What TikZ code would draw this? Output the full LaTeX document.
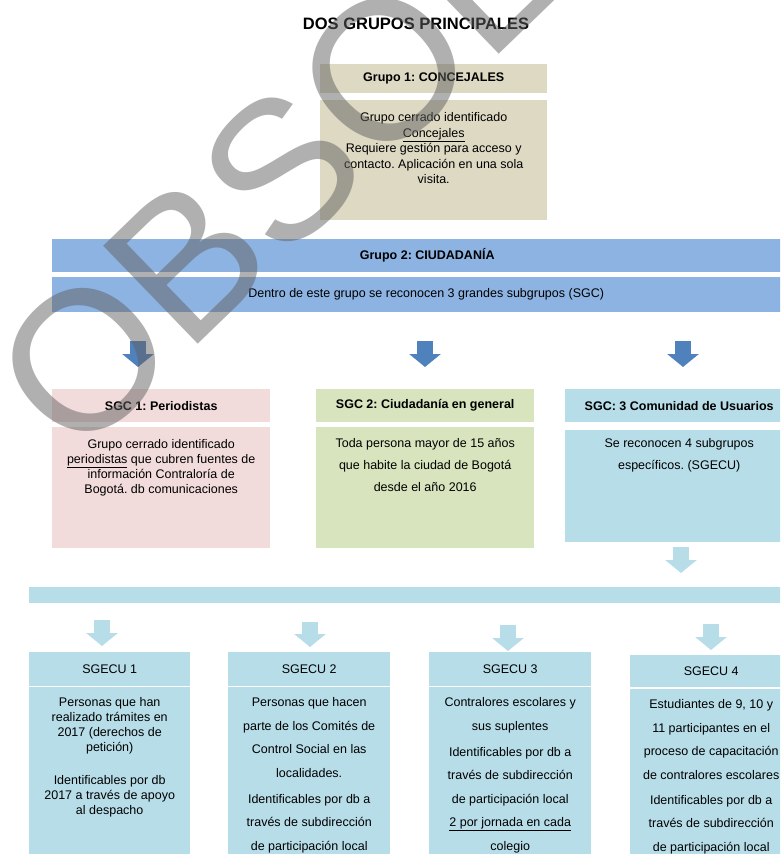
\documentclass[tikz,border=0pt]{standalone}
\usepackage{fontspec}
\setmainfont{Liberation Sans}
\usetikzlibrary{arrows.meta,positioning}
\definecolor{tanc}{HTML}{DDD9C3}
\definecolor{azulbarra}{HTML}{8DB3E2}
\definecolor{azulosc}{HTML}{4F81BD}
\definecolor{rosa}{HTML}{F2DCDB}
\definecolor{verde}{HTML}{D7E4BD}
\definecolor{celeste}{HTML}{B7DDE8}
\frenchspacing
% top aligned text of a fixed size cell: width, height, top pad, text
\newcommand{\celda}[4]{\parbox[t][#2][t]{#1}{\vspace*{#3}\centering #4\par}}

\begin{document}
\begin{tikzpicture}[x=1pt, y=-1pt,
  hdr/.style={fill=#1, inner sep=0pt, minimum height=33pt, anchor=north west, font=\fontsize{12.5}{15}\selectfont\bfseries},
  cuerpo/.style={fill=#1, inner sep=0pt, anchor=north west, font=\fontsize{12.5}{15}\selectfont},
  arr/.style={line width=16pt, -{Triangle[width=31pt,length=13pt]}, draw=#1, fill=#1}
]
  \useasboundingbox (0,0) rectangle (780,854);
  \clip (0,0) rectangle (780,854);

  \node[font=\fontsize{16.5}{18}\selectfont\bfseries] (titulo) at (416,24) {DOS GRUPOS PRINCIPALES};

  % grupo 1
  \node[hdr=tanc, minimum width=227pt, minimum height=29pt] (g1h) at (320,64) {Grupo 1: CONCEJALES};
  \node[cuerpo=tanc, font=\fontsize{12.5}{15.5}\selectfont] (g1b) at (320,100) {\celda{227pt}{120pt}{12.4pt}{Grupo cerrado identificado\\ \underline{Concejales}\\ Requiere gestión para acceso y\\ contacto. Aplicación en una sola\\ visita.}};

  % grupo 2
  \node[hdr=azulbarra, minimum width=750pt] (g2h) at (52,239) {Grupo 2: CIUDADANÍA};
  \node[cuerpo=azulbarra, minimum width=748pt, minimum height=35pt] (g2b) at (52,277) {Dentro de este grupo se reconocen 3 grandes subgrupos (SGC)};

  % subgrupos SGC
  \node[hdr=rosa, minimum width=218pt] (sgc1h) at (52,389) {SGC 1: Periodistas};
  \node[cuerpo=rosa] (sgc1b) at (52,427) {\celda{218pt}{121pt}{12.4pt}{Grupo cerrado identificado\\ \underline{periodistas} que cubren fuentes de\\ información Contraloría de\\ Bogotá. db comunicaciones}};
  \node[hdr=verde, minimum width=218pt] (sgc2h) at (316,389) {SGC 2: Ciudadanía en general};
  \node[cuerpo=verde, font=\fontsize{12.5}{22}\selectfont] (sgc2b) at (316,427) {\celda{218pt}{121pt}{11.4pt}{Toda persona mayor de 15 años\\ que habite la ciudad de Bogotá\\ desde el año 2016}};
  \node[hdr=celeste, minimum width=228pt] (sgc3h) at (565,389) {SGC: 3 Comunidad de Usuarios};
  \node[cuerpo=celeste, font=\fontsize{12.5}{22}\selectfont] (sgc3b) at (565,430) {\celda{228pt}{112pt}{8.4pt}{Se reconocen 4 subgrupos\\ específicos. (SGECU)}};

  \node[cuerpo=celeste, minimum width=760pt, minimum height=16pt] (barra) at (29,587) {};

  % subgrupos SGECU
  \node[hdr=celeste, minimum width=161pt, minimum height=34pt, font=\fontsize{12.5}{15}\selectfont] (sg1h) at (29,652) {SGECU 1};
  \node[cuerpo=celeste] (sg1b) at (29,687) {\celda{161pt}{175pt}{10.4pt}{Personas que han\\ realizado trámites en\\ 2017 (derechos de\\ petición)\\[18pt] Identificables por db\\ 2017 a través de apoyo\\ al despacho}};
  \node[hdr=celeste, minimum width=162pt, minimum height=34pt, font=\fontsize{12.5}{15}\selectfont] (sg2h) at (228,652) {SGECU 2};
  \node[cuerpo=celeste, font=\fontsize{12.5}{23.5}\selectfont] (sg2b) at (228,687) {\celda{162pt}{175pt}{10.4pt}{Personas que hacen\\ parte de los Comités de\\ Control Social en las\\ localidades.\\[2.5pt] Identificables por db a\\ través de subdirección\\ de participación local}};
  \node[hdr=celeste, minimum width=162pt, minimum height=34pt, font=\fontsize{12.5}{15}\selectfont] (sg3h) at (429,652) {SGECU 3};
  \node[cuerpo=celeste, font=\fontsize{12.5}{23.5}\selectfont] (sg3b) at (429,687) {\celda{162pt}{175pt}{10.4pt}{Contralores escolares y\\ sus suplentes\\[2.5pt] Identificables por db a\\ través de subdirección\\ de participación local\\ \underline{2 por jornada en cada}\\ colegio}};
  \node[hdr=celeste, minimum width=162pt, minimum height=32pt, font=\fontsize{12.5}{15}\selectfont] (sg4h) at (630,655) {SGECU 4};
  \node[cuerpo=celeste, font=\fontsize{12.5}{23.5}\selectfont] (sg4b) at (630,689) {\celda{162pt}{175pt}{10.4pt}{Estudiantes de 9, 10 y\\ 11 participantes en el\\ proceso de capacitación\\ de contralores escolares\\[1.5pt] Identificables por db a\\ través de subdirección\\ de participación local}};

  % flechas
  \coordinate (xa1) at (138,0);
  \coordinate (xa2) at (425,0);
  \coordinate (xa3) at (683,0);
  \coordinate (xb) at (681,0);
  \coordinate (xc1) at (102,0);
  \coordinate (xc2) at (310,0);
  \coordinate (xc3) at (508,0);
  \coordinate (xc4) at (711,0);
  \draw[arr=azulosc, shorten <=29pt, shorten >=22pt] (g2b.south -| xa1) -- (sgc1h.north -| xa1);
  \draw[arr=azulosc, shorten <=29pt, shorten >=22pt] (g2b.south -| xa2) -- (sgc2h.north -| xa2);
  \draw[arr=azulosc, shorten <=29pt, shorten >=22pt] (g2b.south -| xa3) -- (sgc3h.north -| xa3);
  \draw[arr=celeste, shorten <=5pt, shorten >=14pt] (sgc3b.south -| xb) -- (barra.north -| xb);
  \draw[arr=celeste, shorten <=17pt, shorten >=6pt] (barra.south -| xc1) -- (sg1h.north -| xc1);
  \draw[arr=celeste, shorten <=19pt, shorten >=5pt] (barra.south -| xc2) -- (sg2h.north -| xc2);
  \draw[arr=celeste, shorten <=22pt, shorten >=1pt] (barra.south -| xc3) -- (sg3h.north -| xc3);
  \draw[arr=celeste, shorten <=21pt, shorten >=5pt] (barra.south -| xc4) -- (sg4h.north -| xc4);

  % marca de agua
  \node[rotate=44, anchor=base west, inner sep=0pt, text=black!62, text opacity=0.5, font=\fontsize{198}{198}\selectfont] (marca) at (76,463) {OBSOLETO};
\end{tikzpicture}
\end{document}
